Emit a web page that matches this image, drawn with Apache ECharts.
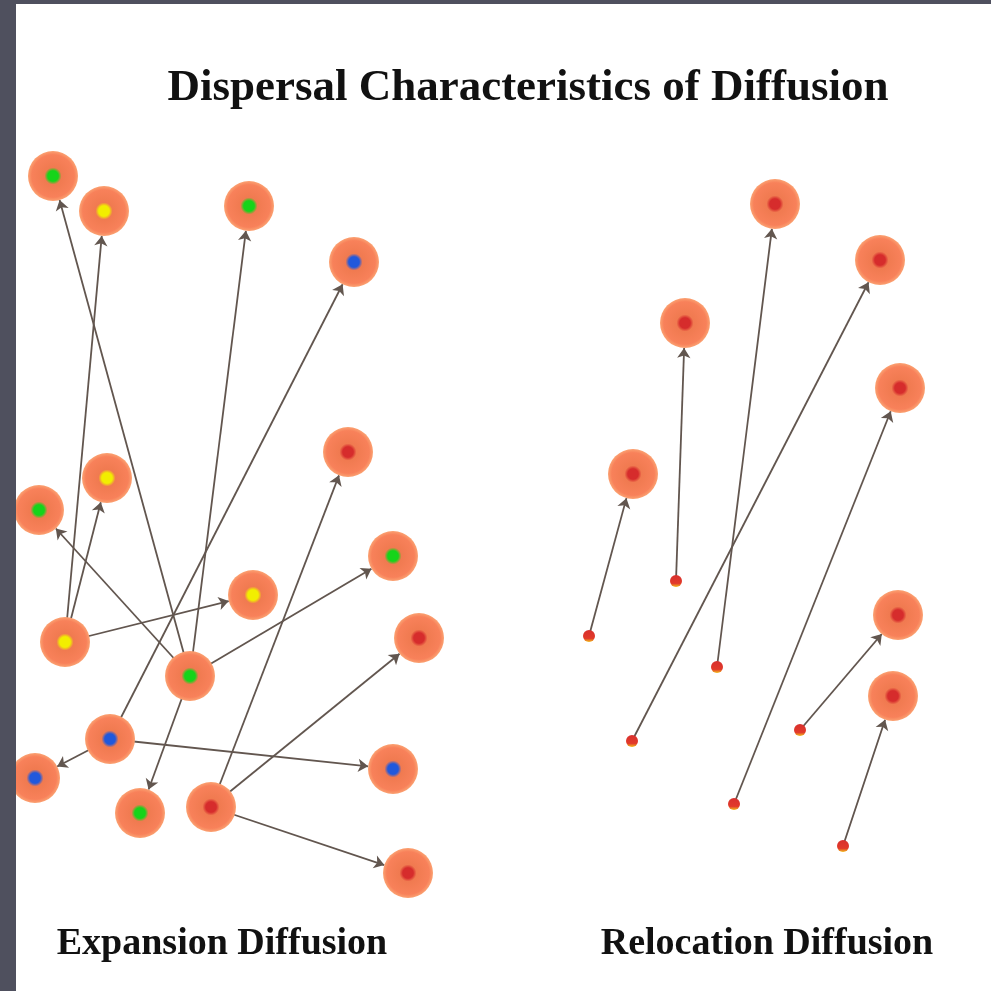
<!DOCTYPE html>
<html>
<head>
<meta charset="utf-8">
<script src="https://cdn.jsdelivr.net/npm/echarts@6/dist/echarts.min.js"></script>
<style>
html,body{margin:0;padding:0;background:#fff;}
#chart{width:991px;height:991px;}
</style>
</head>
<body>
<div id="chart"></div>
<script>
// ---------- data ----------
const titleText = 'Dispersal Characteristics of Diffusion';
const panelLabels = ['Expansion Diffusion', 'Relocation Diffusion'];

// Expansion diffusion nodes
const expNames = ['G1','Y1','G2','B1','R1','Y2','G3','G4','Y3','R2','Y4','G5','B2','B3','B4','G6','R3','R4'];
const expX     = [53, 104, 249, 354, 348, 107, 39, 393, 253, 419, 65, 190, 110, 35, 393, 140, 211, 408];
const expY     = [176, 211, 206, 262, 452, 478, 510, 556, 595, 638, 642, 676, 739, 778, 769, 813, 807, 873];
const expCore  = ['green','yellow','green','blue','red','yellow','green','green','yellow','red','yellow','green','blue','blue','blue','green','red','red'];
const expSource = ['Y4','Y4','Y4','G5','G5','G5','G5','G5','B2','B2','B2','R3','R3','R3'];
const expTarget = ['Y1','Y2','Y3','G1','G2','G3','G4','G6','B1','B3','B4','R1','R2','R4'];

// Relocation diffusion: origins (small dots) and destinations (circles)
const relTargetNames = ['T1','T2','T3','T4','T5','T6','T7'];
const relTargetX = [775, 880, 685, 900, 633, 898, 893];
const relTargetY = [204, 260, 323, 388, 474, 615, 696];
const relSourceNames = ['S1','S2','S3','S4','S5','S6','S7'];
const relSourceX = [589, 676, 717, 632, 734, 800, 843];
const relSourceY = [636, 581, 667, 741, 804, 730, 846];
const relSource = ['S1','S2','S3','S4','S5','S6','S7'];
const relTarget = ['T5','T3','T1','T2','T4','T6','T7'];

// ---------- styles ----------
const coreColors = {green:'#16d41a', yellow:'#f2ee00', blue:'#2158dc', red:'#d62c2c'};
function nodeFill(core){
  const c = coreColors[core];
  return new echarts.graphic.RadialGradient(0.5,0.5,0.5,[
    {offset:0, color:c},
    {offset:0.21, color:c},
    {offset:0.34, color:'#f07a50'},
    {offset:0.85, color:'#f8815a'},
    {offset:1, color:'#fba272'}
  ]);
}
const dotFill = new echarts.graphic.LinearGradient(0,0,0,1,[
  {offset:0, color:'#d8302e'},
  {offset:0.7, color:'#e23a2a'},
  {offset:1, color:'#f3c020'}
]);

const expData = expNames.map((n,i)=>({
  name:n, value:[expX[i], expY[i]], symbolSize:50,
  itemStyle:{color:nodeFill(expCore[i])}
}));
const expLinks = expSource.map((s,i)=>({source:s, target:expTarget[i]}));

const relData = relTargetNames.map((n,i)=>({
  name:n, value:[relTargetX[i], relTargetY[i]], symbolSize:50,
  itemStyle:{color:nodeFill('red')}
})).concat(relSourceNames.map((n,i)=>({
  name:n, value:[relSourceX[i], relSourceY[i]], symbolSize:12,
  itemStyle:{color:dotFill}
})));
const relLinks = relSource.map((s,i)=>({source:s, target:relTarget[i]}));

const edgeStyle = {color:'#62564f', width:1.8, opacity:1, curveness:0};

const chart = echarts.init(document.getElementById('chart'), null, {renderer:'canvas'});
chart.setOption({
  animation:false,
  backgroundColor:'#ffffff',
  grid:{left:0, right:0, top:0, bottom:0},
  xAxis:{type:'value', min:0, max:991, show:false},
  yAxis:{type:'value', min:0, max:991, inverse:true, show:false},
  series:[
    {
      type:'graph', coordinateSystem:'cartesian2d', layout:'none', silent:true,
      edgeSymbol:['none','arrow'], edgeSymbolSize:[0,10],
      data:expData, links:expLinks, lineStyle:edgeStyle,
      label:{show:false}
    },
    {
      type:'graph', coordinateSystem:'cartesian2d', layout:'none', silent:true,
      edgeSymbol:['none','arrow'], edgeSymbolSize:[0,10],
      data:relData, links:relLinks, lineStyle:edgeStyle,
      label:{show:false}
    }
  ],
  graphic:[
    {type:'text', x:528, y:88, z:50, style:{text:titleText, font:'bold 45px "Liberation Serif"', fill:'#111', textAlign:'center', textVerticalAlign:'middle'}},
    {type:'text', x:222, y:944, z:50, style:{text:panelLabels[0], font:'bold 38px "Liberation Serif"', fill:'#111', textAlign:'center', textVerticalAlign:'middle'}},
    {type:'text', x:767, y:944, z:50, style:{text:panelLabels[1], font:'bold 38px "Liberation Serif"', fill:'#111', textAlign:'center', textVerticalAlign:'middle'}},
    {type:'rect', z:100, shape:{x:0, y:0, width:16, height:991}, style:{fill:'#4f505e'}},
    {type:'rect', z:100, shape:{x:0, y:0, width:991, height:4}, style:{fill:'#4f505e'}}
  ]
});
</script>
</body>
</html>
